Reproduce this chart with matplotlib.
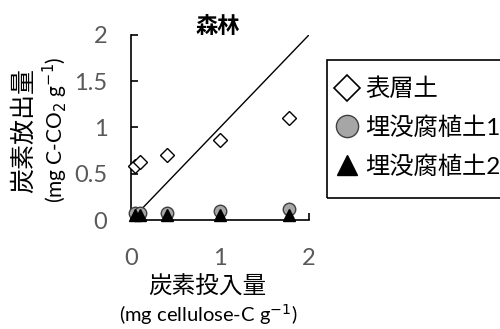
import matplotlib.pyplot as plt
from matplotlib.lines import Line2D
from matplotlib.patches import Rectangle

# === Data ===
carbon_input = [0.04, 0.1, 0.4, 1.0, 1.78]
surface_soil = [0.58, 0.63, 0.70, 0.87, 1.10]
buried_humus1 = [0.08, 0.08, 0.08, 0.10, 0.12]
buried_humus2 = [0.05, 0.05, 0.05, 0.05, 0.05]
ref_line_x = [0, 2]
ref_line_y = [0, 2]

series_labels = ["表層土", "埋没腐植土1", "埋没腐植土2"]
title = "森林"
xticks = [0, 1, 2]
yticks = [0, 0.5, 1, 1.5, 2]

# === Style ===
plt.rcParams.update({
    'font.family': ['Lato', 'Noto Sans CJK JP', 'DejaVu Sans'],
    'font.size': 15,
    'axes.linewidth': 1.2,
    'xtick.direction': 'in',
    'ytick.direction': 'in',
    'xtick.major.size': 5,
    'ytick.major.size': 5,
    'xtick.major.width': 1.2,
    'ytick.major.width': 1.2,
})

fig = plt.figure(figsize=(5, 3.29), dpi=100)
ax = fig.add_axes([0.262, 0.331, 0.356, 0.563])

ax.plot(ref_line_x, ref_line_y, color='black', lw=1)
ax.plot(carbon_input, buried_humus1, 'o', ms=9, mfc='#a6a6a6', mec='#404040',
        mew=1, clip_on=False, zorder=3)
ax.plot(carbon_input, buried_humus2, '^', ms=9, mfc='black', mec='black',
        clip_on=False, zorder=4)
ax.plot(carbon_input, surface_soil, 'D', ms=7, mfc='white', mec='black',
        mew=1, clip_on=False, zorder=5)

ax.set_xlim(0, 2)
ax.set_ylim(0, 2)
ax.set_xticks(xticks)
ax.set_yticks(yticks)
ax.set_xticklabels([str(v) for v in xticks])
ax.set_yticklabels(["0", "0.5", "1", "1.5", "2"])
ax.tick_params(axis='both', labelsize=17, labelcolor='#595959')
ax.tick_params(axis='x', pad=20)
ax.tick_params(axis='y', pad=17)
ax.spines['top'].set_visible(False)
ax.spines['right'].set_visible(False)

fig.text(0.436, 0.918, title, ha='center', va='center', fontsize=16,
         fontweight='bold')

# axis labels (two lines each)
fig.text(0.414, 0.128, "炭素投入量", ha='center', va='center', fontsize=17)
fig.text(0.416, 0.045, "(mg cellulose-C g$^{-1}$)", ha='center', va='center', fontsize=14.5)
fig.text(0.046, 0.602, "炭素放出量", ha='center', va='center', rotation=90, fontsize=18)
fig.text(0.11, 0.605, "(mg C-CO$_2$ g$^{-1}$)", ha='center', va='center', rotation=90, fontsize=15)

# === Legend (frame drawn separately; it runs off the right edge) ===
fig.patches.append(Rectangle((0.654, 0.398), 0.4, 0.419, transform=fig.transFigure,
                             facecolor='none', edgecolor='black', lw=1.2))
handles = [
    Line2D([], [], marker='D', ls='none', ms=13, mfc='white', mec='black', mew=1.2),
    Line2D([], [], marker='o', ls='none', ms=16, mfc='#a6a6a6', mec='#404040', mew=1),
    Line2D([], [], marker='^', ls='none', ms=15, mfc='black', mec='black'),
]
leg = fig.legend(handles, series_labels, loc='upper left',
                 bbox_to_anchor=(0.672, 0.764), frameon=False,
                 fontsize=17.5, handlelength=0.9,
                 handletextpad=0.3, borderpad=0, labelspacing=0.66,
                 borderaxespad=0)

fig.savefig("out.png", dpi=100)
